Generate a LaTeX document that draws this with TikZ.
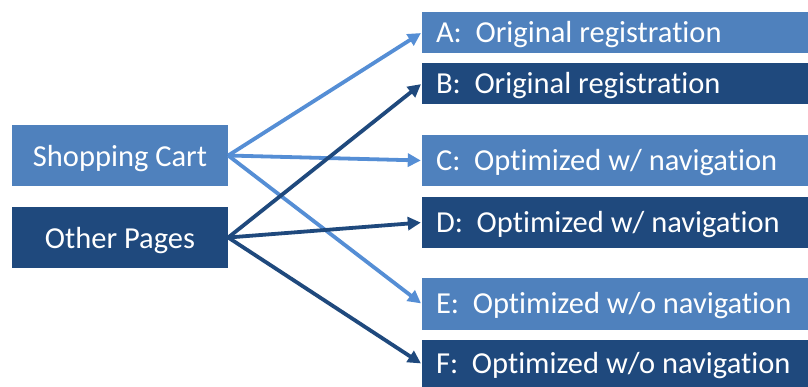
\documentclass[tikz,border=0pt]{standalone}
\usepackage{fontspec}
\setmainfont[Ligatures={NoCommon,NoRequired,NoContextual}]{Carlito}
\usetikzlibrary{arrows.meta}
\definecolor{lightbox}{HTML}{4F81BD}
\definecolor{darkbox}{HTML}{1F497D}
\definecolor{lightarrow}{HTML}{558ED5}
\definecolor{darkarrow}{HTML}{1F497D}
\tikzset{
  labelfont/.style={font=\fontsize{30.5}{33}\selectfont},
  srcbox/.style={draw=none, minimum width=216pt, minimum height=61pt, inner sep=0pt,
    text=white, labelfont, text height=21pt, text depth=0pt},
  dstbox/.style={draw=none, minimum width=386pt, inner sep=0pt},
  dsttext/.style={anchor=west, text=white, inner sep=0pt, labelfont,
    text height=19pt, text depth=0pt},
  flow/.style={line width=3.8pt, -{Triangle[length=13pt,width=13pt]}, shorten >=1pt},
}
\begin{document}
\begin{tikzpicture}[x=1pt,y=-1pt]
  \useasboundingbox (0,0) rectangle (808,386);
  % sources
  \node[srcbox, fill=lightbox] (cart) at (120,155.5) {Shopping Cart};
  \node[srcbox, fill=darkbox] (other) at (120,237.5) {Other Pages};
  % destinations (boxes run to the right edge)
  \node[dstbox, fill=lightbox, minimum height=41pt] (A) at (615,32.5) {};
  \node[dstbox, fill=darkbox, minimum height=41pt] (B) at (615,83.5) {};
  \node[dstbox, fill=lightbox, minimum height=51pt] (C) at (615,160.5) {};
  \node[dstbox, fill=darkbox, minimum height=51pt] (D) at (615,222.5) {};
  \node[dstbox, fill=lightbox, minimum height=52pt] (E) at (615,304) {};
  \node[dstbox, fill=darkbox, minimum height=48pt] (F) at (615,364) {};
  \node[dsttext] (At) at ([xshift=14pt]A.west) {A:\ \ Original registration};
  \node[dsttext] (Bt) at ([xshift=14pt]B.west) {B:\ \ Original registration};
  \node[dsttext] (Ct) at ([xshift=14pt]C.west) {C:\ \ Optimized w/ navigation};
  \node[dsttext] (Dt) at ([xshift=14pt]D.west) {D:\ \ Optimized w/ navigation};
  \node[dsttext] (Et) at ([xshift=14pt]E.west) {E:\ \ Optimized w/o navigation};
  \node[dsttext] (Ft) at ([xshift=14pt]F.west) {F:\ \ Optimized w/o navigation};
  % connectors
  \draw[flow, lightarrow] (cart.east) -- (A.west);
  \draw[flow, lightarrow] (cart.east) -- (C.west);
  \draw[flow, lightarrow] (cart.east) -- (E.west);
  \draw[flow, darkarrow] (other.east) -- (B.west);
  \draw[flow, darkarrow] (other.east) -- (D.west);
  \draw[flow, darkarrow] (other.east) -- (F.west);
\end{tikzpicture}
\end{document}
